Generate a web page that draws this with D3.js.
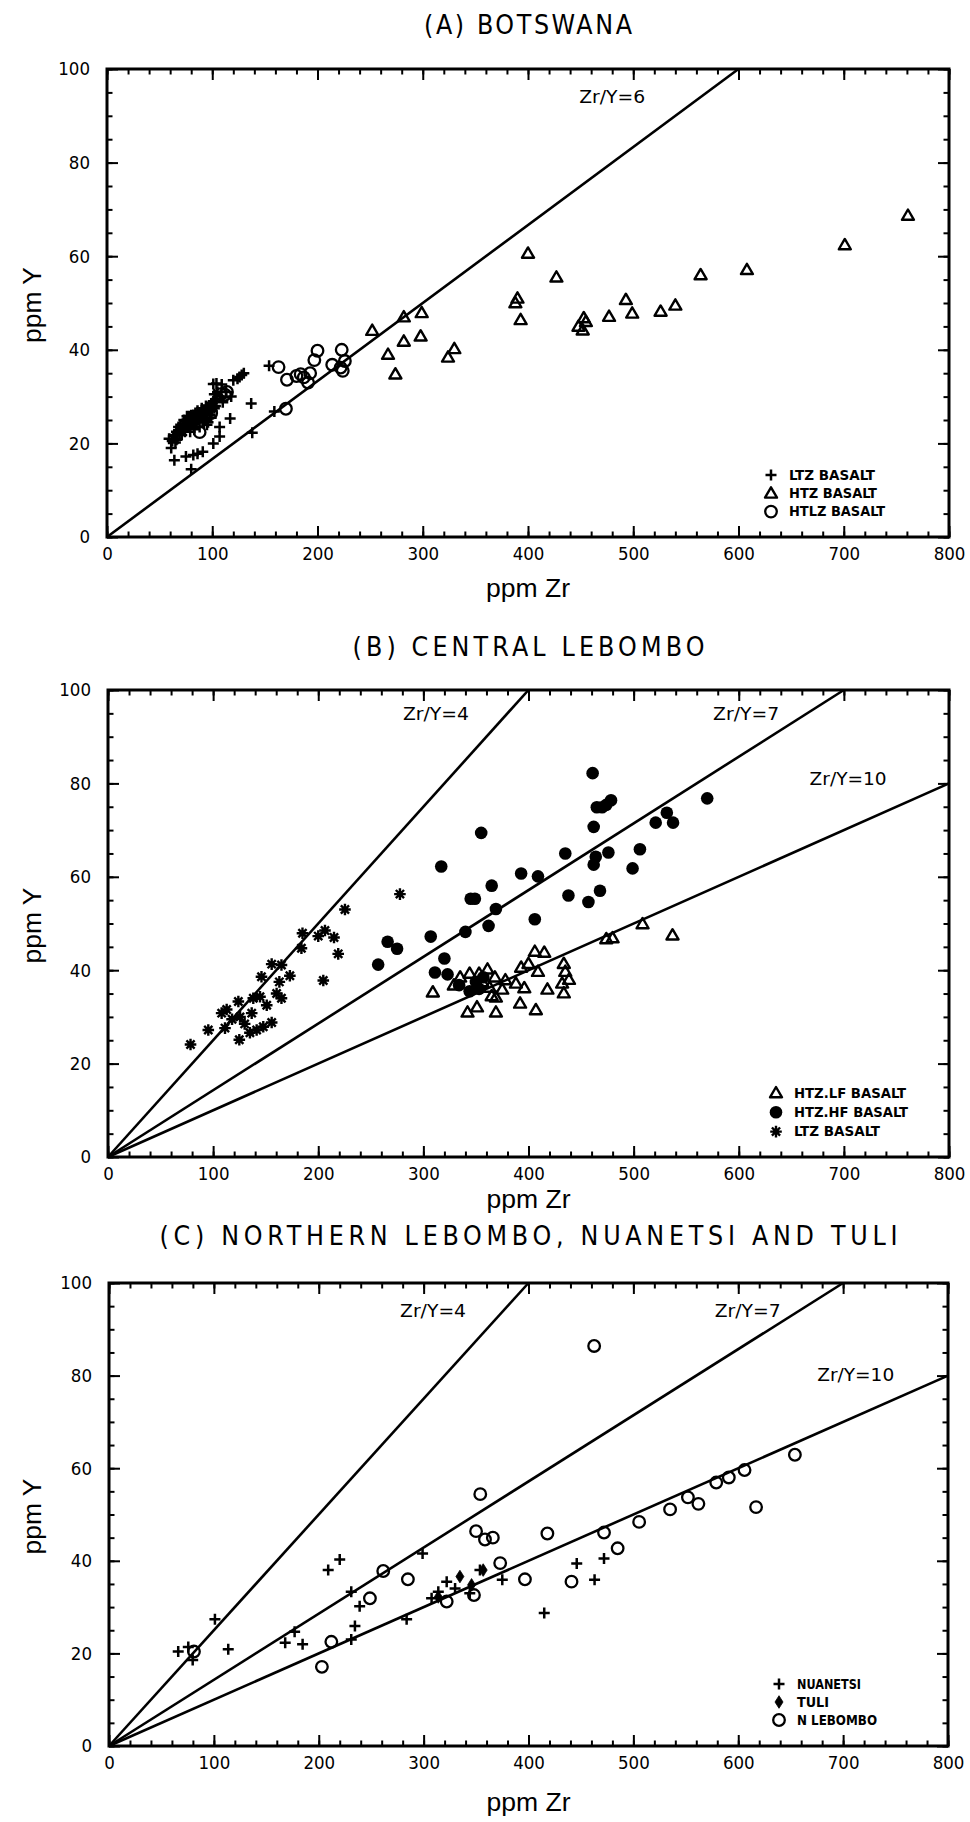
<!DOCTYPE html>
<html>
<head>
<meta charset="utf-8">
<script src="https://cdn.jsdelivr.net/npm/d3@7"></script>
<style>
  html, body { margin: 0; padding: 0; background: #fff; }
  svg { display: block; }
</style>
</head>
<body>
<svg id="chart" width="970" height="1822"></svg>
<script>
// ---------- axis ticks ----------
const xTickValues = [0, 100, 200, 300, 400, 500, 600, 700, 800];
const yTickValues = [0, 20, 40, 60, 80, 100];
const xMinorStep = 20;
const yMinorStep = 5;

// ---------- (A) Botswana: [ppm Zr, ppm Y] ----------
const aLtz = [
  [59,21],[61,19],[63,21.5],[64,16.4],[65,20.2],[66,22.5],[67,21],[68,23.5],[69,22],[70,24],
  [71,21.8],[72,23],[73,25],[74,22.5],[75,24],[75,17.2],[76,25.8],[77,23.5],[78,24.8],[79,22.5],
  [80,26],[80,14.5],[81,24],[82,25.5],[82,17.5],[83,23],[84,26.5],[85,24.5],[86,27],[86,17.8],
  [87,25],[88,23.5],[89,26],[90,27.5],[91,24.5],[91,18.2],[92,26.5],[93,25],[94,28],[95,26],
  [96,24.5],[97,27],[98,26],[99,28.5],[100,27],[101,29],[101,20],[101,32.7],[102,30.5],[103,28],
  [104,32.8],[105,31],[107,21.5],[107,23.5],[108,30],[109,32.6],[110,28.8],[113,31],[117,25.3],
  [118,30],[120,33.5],[124,33.8],[126,34.2],[128,34.6],[130,35],[137,28.5],[138,22.3],[154,36.6],[159,26.8],
  [62,20.5],[64,21.8],[66,20.8],[68,22.8],[70,23.2],[72,24.2],[74,24.8],[76,23.8],[78,25.8],[80,25],
  [82,24.2],[84,25.2],[86,25.8],[88,26.5],[90,25.8],[92,27.2],[94,26.2],[96,27.8],[98,27.2],[100,28.5],
  [102,27.5],[104,29.5],[95,24],[99,25.5]
];
const aHtz = [
  [252,44.1],[267,39],[274,34.8],[282,47],[282,41.8],[299,47.9],[298,42.9],[324,38.4],[330,40.2],
  [388,50],[390,51],[393,46.4],[400,60.6],[427,55.5],[448,45],[452,44.2],[453,46.8],[455,46],
  [477,47.1],[493,50.7],[499,47.8],[526,48.2],[540,49.5],[564,56],[608,57.1],[701,62.4],[761,68.7]
];
const aHtlz = [
  [88,22.4],[99,26.5],[108,30.5],[112,30.4],[114,31],[163,36.3],[170,27.4],[171,33.6],[180,34.4],
  [184,34.8],[187,34.1],[191,33],[193,35],[197,37.8],[200,39.8],[214,36.8],[222,36.2],[223,40],
  [224,35.5],[226,37.6]
];
const aRatios = [6];

// ---------- (B) Central Lebombo ----------
const bHtzLf = [
  [309,35.3],[329,36.8],[335,38.5],[342,31],[344,39.3],[351,32.1],[353,39.3],[356,37.5],[361,40.2],
  [363,36.3],[365,34.5],[368,38.5],[369,34.2],[369,31],[375,35.9],[378,37.9],[388,37.2],[392,32.9],
  [393,40.6],[396,36.2],[400,41.4],[406,44],[407,31.5],[409,39.7],[415,43.8],[418,35.9],[432,37.2],
  [433.6,41.4],[433.6,35.1],[435,39.7],[438.5,38],[474,46.7],[480,46.9],[508.5,49.9],[537,47.5]
];
const bHtzHf = [
  [257,41.2],[266,46.1],[275,44.6],[307,47.2],[311,39.5],[317,62.2],[320,42.5],[323,39.1],[334,36.8],
  [340,48.2],[344,35.5],[345,55.3],[349,55.3],[350,37.5],[353,36],[355,69.4],[357,38.5],[362,49.5],
  [365,58.1],[369,53.1],[393,60.7],[406,50.9],[409,60.1],[435,65],[438,56],[457,54.6],[461,82.2],
  [462,70.7],[462,62.6],[464,64.3],[465,74.9],[468,57],[470,74.9],[474,75.4],[476,65.2],[478.5,76.4],
  [499,61.8],[506,65.9],[521,71.6],[531.6,73.7],[537.5,71.6],[570,76.8]
];
const bLtz = [
  [78.5,24.1],[95.4,27.2],[111.3,27.6],[124.9,25.1],[108.1,30.8],[112.9,31.6],[124,33.3],[125.6,30],
  [136.7,30.8],[138.2,34],[144.6,34.3],[151,32.5],[135,26.6],[141.4,27.2],[147.7,27.9],[155.7,28.8],
  [146,38.6],[155.7,41.3],[165,41.1],[163,37.5],[160.4,35],[165,34],[173,38.8],[184,44.7],[185,47.9],
  [200,47.3],[206.4,48.5],[215,47],[219,43.5],[204.8,37.8],[225.4,53],[277.7,56.3],[118,29.5],[130,28.5]
];
const bcRatios = [4, 7, 10];

// ---------- (C) Northern Lebombo, Nuanetsi and Tuli ----------
const cNuanetsi = [
  [66,20.4],[75.6,21.4],[79.8,18.6],[101,27.4],[113.7,20.9],[168,22.3],[177,24.7],[184.6,22],[209,38],
  [220,40.3],[231,33.3],[239,30.2],[234.5,25.9],[231,23],[283.8,27.4],[299,41.6],[307.6,31.9],[314,33.3],
  [322,35.5],[330,34],[344,33],[353.7,38],[375,35.9],[415,28.7],[446,39.4],[463,35.9],[472,40.5]
];
const cTuli = [[314,32.2],[334.6,36.6],[345.7,34.8],[356.8,38]];
const cNLebombo = [
  [81,20.4],[203,17.1],[212,22.5],[248.8,31.9],[261.5,37.8],[285,36],[322,31.2],[348,32.6],[350,46.4],
  [354,54.4],[358.5,44.6],[366,45],[373,39.5],[396.6,36],[418,45.9],[441,35.5],[462.6,86.4],[472,46.1],
  [485,42.7],[505.5,48.4],[535,51.1],[552,53.7],[562,52.3],[579,56.9],[591,58],[606,59.6],[617,51.6],[654,62.9]
];

// ---------- drawing ----------
const FONT = "'DejaVu Sans Condensed','Liberation Sans Narrow','Liberation Sans',Arial,sans-serif";
const FONT_PLAIN = "'Liberation Sans',Arial,sans-serif";
const svg = d3.select("#chart");
svg.append("rect").attr("width", 970).attr("height", 1822).attr("fill", "#fff");

// marker outlines, centred on 0,0
const markers = {
  plus:     { d: "M-5.5,0H5.5M0,-5.5V5.5", fill: "none", sw: 2.5 },
  triangle: { d: "M0,-6L6,4.3L-6,4.3Z", fill: "none", sw: 2.4 },
  circle:   { d: d3.arc()({innerRadius: 0, outerRadius: 5.8, startAngle: 0, endAngle: 2 * Math.PI}), fill: "none", sw: 2.3 },
  dot:      { d: d3.arc()({innerRadius: 0, outerRadius: 6.3, startAngle: 0, endAngle: 2 * Math.PI}), fill: "#000", sw: 0 },
  star:     { d: "M-5.8,0H5.8M0,-5.8V5.8M-4.1,-4.1L4.1,4.1M-4.1,4.1L4.1,-4.1", fill: "none", sw: 2.4 },
  diamond:  { d: "M0,-6.3L4,0L0,6.3L-4,0Z", fill: "#000", sw: 0.8 }
};

function drawMarker(g, kind, px, py) {
  const m = markers[kind];
  g.append("path")
    .attr("d", m.d)
    .attr("transform", `translate(${px},${py})`)
    .attr("fill", m.fill)
    .attr("stroke", "#000")
    .attr("stroke-width", m.sw)
    .attr("stroke-linejoin", "round");
}

// text stretched to a fixed width, placed by its centre
function fittedText(g, cx, cy, width, str, family, size, adjust) {
  return g.append("text")
    .attr("x", cx - width / 2).attr("y", cy).attr("dy", "0.36em")
    .attr("text-anchor", "start")
    .attr("font-family", family).attr("font-size", size)
    .attr("textLength", width).attr("lengthAdjust", adjust)
    .text(str);
}

const panels = [
  {
    title: "(A) BOTSWANA", titleY: 24, titleW: 208,
    frame: { l: 107, r: 949, t: 69, b: 537 },
    xLabelY: 588,
    ratios: aRatios, ratioLabelAt: [[480, 94.2]],
    series: [
      { name: "LTZ BASALT", data: aLtz, kind: "plus" },
      { name: "HTZ BASALT", data: aHtz, kind: "triangle" },
      { name: "HTLZ BASALT", data: aHtlz, kind: "circle" }
    ],
    legend: { x: 771, y: 475, dy: 18.3, w: [86, 88, 96] }
  },
  {
    title: "(B) CENTRAL LEBOMBO", titleY: 646, titleW: 352,
    frame: { l: 108, r: 949, t: 690, b: 1157 },
    xLabelY: 1199,
    ratios: bcRatios, ratioLabelAt: [[312, 95], [607, 95], [704, 81]],
    series: [
      { name: "HTZ.LF BASALT", data: bHtzLf, kind: "triangle" },
      { name: "HTZ.HF BASALT", data: bHtzHf, kind: "dot" },
      { name: "LTZ BASALT", data: bLtz, kind: "star" }
    ],
    legend: { x: 776, y: 1093, dy: 19.3, w: [112, 114, 86] }
  },
  {
    title: "(C) NORTHERN LEBOMBO, NUANETSI AND TULI", titleY: 1235, titleW: 738,
    frame: { l: 109, r: 948, t: 1283, b: 1746 },
    xLabelY: 1802,
    ratios: bcRatios, ratioLabelAt: [[309, 94], [609, 94], [712, 80.3]],
    series: [
      { name: "NUANETSI", data: cNuanetsi, kind: "plus" },
      { name: "TULI", data: cTuli, kind: "diamond" },
      { name: "N LEBOMBO", data: cNLebombo, kind: "circle" }
    ],
    legend: { x: 779, y: 1684, dy: 18, w: [64, 32, 80] }
  }
];

panels.forEach(p => {
  const f = p.frame;
  const x = d3.scaleLinear().domain([0, 800]).range([f.l, f.r]);
  const y = d3.scaleLinear().domain([0, 100]).range([f.b, f.t]);
  const g = svg.append("g");
  const cx = (f.l + f.r) / 2;

  // title and axis names, centred on the plot frame
  fittedText(g, cx, p.titleY, p.titleW, p.title, FONT, 26.5, "spacing");
  fittedText(g, cx, p.xLabelY, 84, "ppm  Zr", FONT_PLAIN, 26, "spacingAndGlyphs");
  g.append("text")
    .attr("transform", `translate(33,${(f.t + f.b) / 2 + 2}) rotate(-90)`)
    .attr("dy", "0.3em")
    .attr("text-anchor", "start")
    .attr("x", -38)
    .attr("font-family", FONT_PLAIN).attr("font-size", 26)
    .attr("textLength", 76).attr("lengthAdjust", "spacingAndGlyphs")
    .text("ppm  Y");

  // ticks: major with labels on bottom/left, minor on all four sides, all pointing inward
  const styleAxis = (sel, sw) => {
    sel.select(".domain").remove();
    sel.selectAll(".tick line").attr("stroke", "#000").attr("stroke-width", sw);
    sel.selectAll(".tick text").attr("fill", "#000").attr("font-family", FONT).attr("font-size", 18.5);
  };
  const xMinor = d3.range(0, 801, xMinorStep);
  const yMinor = d3.range(0, 101, yMinorStep);

  g.append("g").attr("transform", `translate(0,${f.b})`)
    .call(d3.axisBottom(x).tickValues(xTickValues).tickSize(-11).tickPadding(10).tickFormat(d3.format("d")))
    .call(s => styleAxis(s, 2));
  g.append("g").attr("transform", `translate(0,${f.b})`)
    .call(d3.axisBottom(x).tickValues(xMinor).tickSize(-5.5).tickFormat(""))
    .call(s => styleAxis(s, 2));
  g.append("g").attr("transform", `translate(0,${f.t})`)
    .call(d3.axisTop(x).tickValues(xTickValues).tickSize(-11).tickFormat(""))
    .call(s => styleAxis(s, 2));
  g.append("g").attr("transform", `translate(0,${f.t})`)
    .call(d3.axisTop(x).tickValues(xMinor).tickSize(-5.5).tickFormat(""))
    .call(s => styleAxis(s, 2));
  g.append("g").attr("transform", `translate(${f.l},0)`)
    .call(d3.axisLeft(y).tickValues(yTickValues).tickSize(-11).tickPadding(17).tickFormat(d3.format("d")))
    .call(s => styleAxis(s, 2));
  g.append("g").attr("transform", `translate(${f.l},0)`)
    .call(d3.axisLeft(y).tickValues(yMinor).tickSize(-5.5).tickFormat(""))
    .call(s => styleAxis(s, 2));
  g.append("g").attr("transform", `translate(${f.r},0)`)
    .call(d3.axisRight(y).tickValues(yTickValues).tickSize(-11).tickFormat(""))
    .call(s => styleAxis(s, 2));
  g.append("g").attr("transform", `translate(${f.r},0)`)
    .call(d3.axisRight(y).tickValues(yMinor).tickSize(-5.5).tickFormat(""))
    .call(s => styleAxis(s, 2));

  // frame
  g.append("rect")
    .attr("x", f.l).attr("y", f.t).attr("width", f.r - f.l).attr("height", f.b - f.t)
    .attr("fill", "none").attr("stroke", "#000").attr("stroke-width", 3);

  // constant Zr/Y ratio lines from the origin to the frame edge
  const line = d3.line().x(d => x(d[0])).y(d => y(d[1]));
  p.ratios.forEach((k, i) => {
    const end = 100 * k <= 800 ? [100 * k, 100] : [800, 800 / k];
    g.append("path").attr("d", line([[0, 0], end]))
      .attr("fill", "none").attr("stroke", "#000").attr("stroke-width", 2.6);
    const at = p.ratioLabelAt[i];
    const label = `Zr/Y=${k}`;
    fittedText(g, x(at[0]), y(at[1]), label.length * 11, label, FONT, 18, "spacingAndGlyphs");
  });

  // data points
  p.series.forEach(s => {
    const sg = g.append("g");
    s.data.forEach(d => drawMarker(sg, s.kind, x(d[0]), y(d[1])));
  });

  // legend
  p.series.forEach((s, i) => {
    const ly = p.legend.y + i * p.legend.dy;
    drawMarker(g, s.kind, p.legend.x, ly);
    g.append("text")
      .attr("x", p.legend.x + 18).attr("y", ly).attr("dy", "0.36em")
      .attr("font-family", FONT).attr("font-size", 13.5).attr("font-weight", "bold")
      .attr("textLength", p.legend.w[i]).attr("lengthAdjust", "spacingAndGlyphs")
      .text(s.name);
  });
});
</script>
</body>
</html>
